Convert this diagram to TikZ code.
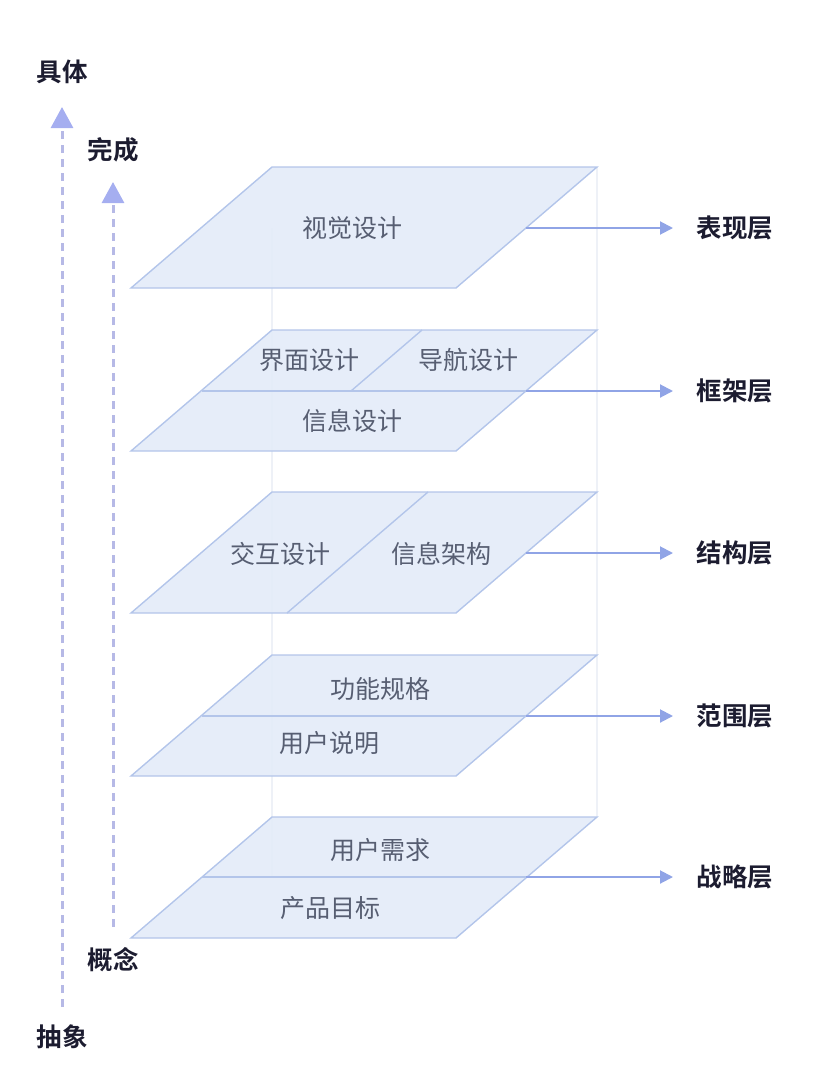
\documentclass[tikz,border=0pt]{standalone}
\usepackage{fontspec}
\setmainfont{Noto Sans CJK SC}[BoldFont={Noto Sans CJK SC Bold}]
\usetikzlibrary{arrows.meta}
\definecolor{layfill}{HTML}{E4ECF9}
\definecolor{laydraw}{HTML}{B3C5EA}
\definecolor{graytxt}{HTML}{575E72}
\definecolor{darktxt}{HTML}{1C1C30}
\definecolor{arrcol}{HTML}{90A4E6}
\definecolor{dashcol}{HTML}{B6B9E6}
\definecolor{tipcol}{HTML}{A5AEF0}
\definecolor{faint}{HTML}{EEF1F7}
\tikzset{
  layer/.style={fill=layfill, fill opacity=0.92, draw=laydraw, line width=1.4pt, line join=miter},
  divline/.style={draw=laydraw, line width=1.4pt},
  txt/.style={text=graytxt, inner sep=0pt, font=\fontsize{25}{30}\selectfont},
  lab/.style={text=darktxt, inner sep=0pt, font=\fontsize{25.5}{30}\selectfont\bfseries},
  conn/.style={draw=arrcol, line width=2pt, -{Triangle[length=13pt,width=13pt,fill=arrcol]}, shorten >=62pt},
  vdash/.style={draw=dashcol, line width=3pt, dash pattern=on 8pt off 6pt,
    -{Triangle[length=21pt,width=22pt,fill=tipcol,color=tipcol]}},
  backline/.style={draw=faint, line width=2pt}
}
\begin{document}
\begin{tikzpicture}[x=1pt,y=-1pt]
\useasboundingbox (0,0) rectangle (817,1090);

% faint back edges
\draw[backline] (272,228) -- (272,877);
\draw[backline] (597,167) -- (597,817);

% Layer 1
\path[layer] (272,167) -- (597,167) -- (456,288) -- (131,288) -- cycle;
% Layer 2
\path[layer] (272,330) -- (597,330) -- (456,451) -- (131,451) -- cycle;
\draw[divline] (202,391) -- (526,391);
\draw[divline] (422,330) -- (351,391);
% Layer 3
\path[layer] (272,492) -- (597,492) -- (456,613) -- (131,613) -- cycle;
\draw[divline] (428,492) -- (287,613);
% Layer 4
\path[layer] (272,655) -- (597,655) -- (456,776) -- (131,776) -- cycle;
\draw[divline] (202,716) -- (526,716);
% Layer 5
\path[layer] (272,817) -- (597,817) -- (456,938) -- (131,938) -- cycle;
\draw[divline] (202,877) -- (526,877);

% layer texts
\node[txt] (vis) at (352,228) {视觉设计};
\node[txt] (jm) at (309,360) {界面设计};
\node[txt] (dh) at (468,360) {导航设计};
\node[txt] (xxsj) at (352,421) {信息设计};
\node[txt] (jh) at (280,554) {交互设计};
\node[txt] (xxjg) at (441,554) {信息架构};
\node[txt] (gn) at (380,689) {功能规格};
\node[txt] (yhsm) at (329,743) {用户说明};
\node[txt] (yhxq) at (380,850) {用户需求};
\node[txt] (cp) at (330,908) {产品目标};

% right labels
\node[lab] (r1) at (735,228) {表现层};
\node[lab] (r2) at (735,391) {框架层};
\node[lab] (r3) at (735,553) {结构层};
\node[lab] (r4) at (735,716) {范围层};
\node[lab] (r5) at (735,877) {战略层};

\coordinate (e1) at (526,228);
\coordinate (e2) at (526,391);
\coordinate (e3) at (526,553);
\coordinate (e4) at (526,716);
\coordinate (e5) at (526,877);
\draw[conn] (e1) -- (r1.center);
\draw[conn] (e2) -- (r2.center);
\draw[conn] (e3) -- (r3.center);
\draw[conn] (e4) -- (r4.center);
\draw[conn] (e5) -- (r5.center);

% left axes
\node[lab] (jt) at (62,72) {具体};
\node[lab] (cx) at (62,1037) {抽象};
\node[lab] (wc) at (113,150) {完成};
\node[lab] (gnn) at (113,960) {概念};
\draw[vdash, shorten <=30pt, shorten >=35pt] (cx.center) -- (jt.center);
\draw[vdash, shorten <=33pt, shorten >=32pt] (gnn.center) -- (wc.center);
\end{tikzpicture}
\end{document}
